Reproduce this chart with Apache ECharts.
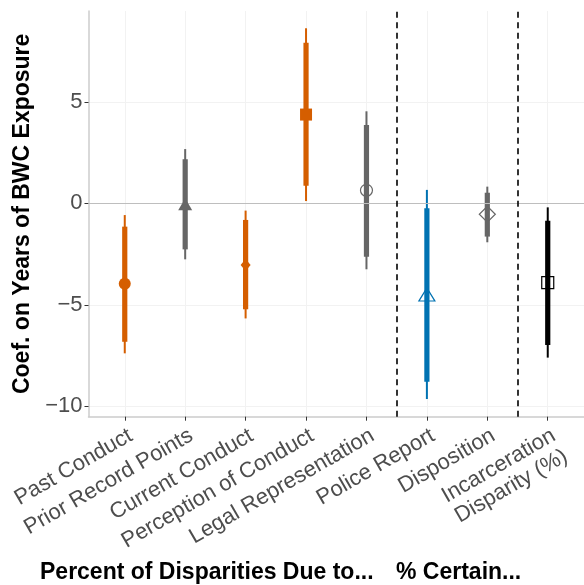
<!DOCTYPE html>
<html>
<head>
<meta charset="utf-8">
<script src="https://cdn.jsdelivr.net/npm/echarts@6/dist/echarts.min.js"></script>
<style>
  html, body { margin: 0; padding: 0; background: #ffffff; }
  #chart { width: 584px; height: 585px; }
</style>
</head>
<body>
<div id="chart"></div>
<script>
// Coefficient estimates with inner (thick) and outer (thin) confidence intervals
const categories = [
  'Past Conduct', 'Prior Record Points', 'Current Conduct', 'Perception of Conduct',
  'Legal Representation', 'Police Report', 'Disposition', 'Incarceration\nDisparity (%)'
];
const estimates = [-3.96, -0.05, -3.04, 4.37, 0.64, -4.49, -0.54, -3.91];
const innerLow  = [-6.82, -2.27, -5.22, 0.87, -2.63, -8.79, -1.64, -6.98];
const innerHigh = [-1.15,  2.17, -0.82, 7.91,  3.86, -0.25,  0.52, -0.86];
const outerLow  = [-7.39, -2.76, -5.67, 0.11, -3.25, -9.64, -1.92, -7.60];
const outerHigh = [-0.58,  2.67, -0.36, 8.62,  4.53,  0.66,  0.82, -0.20];
const groupDividers = [5.5, 7.5];
const yTicks = [-10, -5, 0, 5];

// Marker styling for each estimate
const markColors = ['#D55E00', '#666666', '#D55E00', '#D55E00', '#666666', '#0072B2', '#666666', '#000000'];
const markSymbols = ['circle', 'triangle', 'diamond', 'rect', 'circle', 'triangle', 'diamond', 'rect'];
const markSizes = [[12, 12], [14, 12], [10, 12], [12, 12], [12, 12], [16, 13], [16, 16], [12, 12]];
const markFilled = [true, true, true, true, false, false, false, false];

const xPositions = categories.map((_, i) => i + 1);
const FONT = 'Liberation Sans, Arial, sans-serif';

function intervalSeries(lows, highs, width) {
  return {
    type: 'custom',
    data: categories.map((_, i) => [i + 1, lows[i], highs[i]]),
    encode: { x: 0, y: [1, 2] },
    renderItem: function (params, api) {
      const x = api.value(0);
      const p1 = api.coord([x, api.value(1)]);
      const p2 = api.coord([x, api.value(2)]);
      return {
        type: 'line',
        shape: { x1: p1[0], y1: p1[1], x2: p2[0], y2: p2[1] },
        style: { stroke: markColors[params.dataIndex], lineWidth: width, lineCap: 'butt' }
      };
    },
    z: 3,
    silent: true
  };
}

function pointSeries(filledOnly) {
  const data = [];
  estimates.forEach((v, i) => {
    if (markFilled[i] !== filledOnly) return;
    data.push({
      value: [i + 1, v],
      symbol: markSymbols[i],
      symbolSize: markSizes[i],
      itemStyle: filledOnly
        ? { color: markColors[i], borderWidth: 0, opacity: 1 }
        : { color: 'rgba(0,0,0,0)', borderColor: markColors[i], borderWidth: 1.2, opacity: 1 }
    });
  });
  return { type: 'scatter', data: data, z: filledOnly ? 5 : 2, silent: true };
}

const chart = echarts.init(document.getElementById('chart'), null, { renderer: 'canvas' });

chart.setOption({
  animation: false,
  backgroundColor: '#ffffff',
  grid: { left: 88.5, top: 11, width: 498.6, height: 405.7, containLabel: false },
  xAxis: {
    type: 'value',
    min: 0.4,
    max: 8.6,
    axisLine: { show: true, onZero: false, lineStyle: { color: '#CCCCCC', width: 1.5 } },
    axisTick: { show: true, customValues: xPositions, length: 4, lineStyle: { color: '#333333', width: 1 } },
    axisLabel: {
      customValues: xPositions,
      rotate: 30,
      margin: 7,
      color: '#4D4D4D',
      fontSize: 22,
      fontFamily: FONT,
      lineHeight: 24,
      align: 'right',
      verticalAlign: 'top',
      formatter: function (v) { return categories[Math.round(v) - 1] || ''; }
    },
    splitLine: { show: true, lineStyle: { color: '#F2F2F2', width: 1 } }
  },
  yAxis: {
    type: 'value',
    min: -10.51,
    max: 9.47,
    axisLine: { show: true, lineStyle: { color: '#CCCCCC', width: 1.5 } },
    axisTick: { show: true, customValues: yTicks, length: 4, lineStyle: { color: '#333333', width: 1 } },
    axisLabel: {
      customValues: yTicks,
      margin: 6,
      color: '#4D4D4D',
      fontSize: 22,
      fontFamily: FONT,
      formatter: function (v) { return v < 0 ? '\u2212' + Math.abs(v) : String(v); }
    },
    splitLine: { show: true, lineStyle: { color: '#F2F2F2', width: 1 } },
    name: 'Coef. on Years of BWC Exposure',
    nameLocation: 'middle',
    nameGap: 49,
    nameRotate: 90,
    nameTextStyle: {
      color: '#000000',
      fontSize: 23,
      fontWeight: 'bold',
      fontFamily: FONT
    }
  },
  series: [
    {
      type: 'line',
      data: [],
      silent: true,
      z: 1,
      markLine: {
        silent: true,
        symbol: 'none',
        label: { show: false },
        animation: false,
        data: [{ yAxis: 0, lineStyle: { color: '#BEBEBE', width: 1.2, type: 'solid' } }]
      }
    },
    pointSeries(false),
    intervalSeries(outerLow, outerHigh, 2),
    intervalSeries(innerLow, innerHigh, 5.2),
    pointSeries(true),
    {
      type: 'line',
      data: [],
      silent: true,
      z: 6,
      markLine: {
        silent: true,
        symbol: 'none',
        label: { show: false },
        animation: false,
        data: groupDividers.map(v => ({
          xAxis: v,
          lineStyle: { color: '#000000', width: 1.6, type: [6, 4.5] }
        }))
      }
    }
  ],
  graphic: [
    {
      type: 'text',
      left: 40,
      top: 561,
      style: {
        text: 'Percent of Disparities Due to...',
        fill: '#000000',
        font: 'bold 23px "Liberation Sans", Arial, sans-serif'
      }
    },
    {
      type: 'text',
      left: 396,
      top: 561,
      style: {
        text: '% Certain...',
        fill: '#000000',
        font: 'bold 23px "Liberation Sans", Arial, sans-serif'
      }
    }
  ]
});
</script>
</body>
</html>
